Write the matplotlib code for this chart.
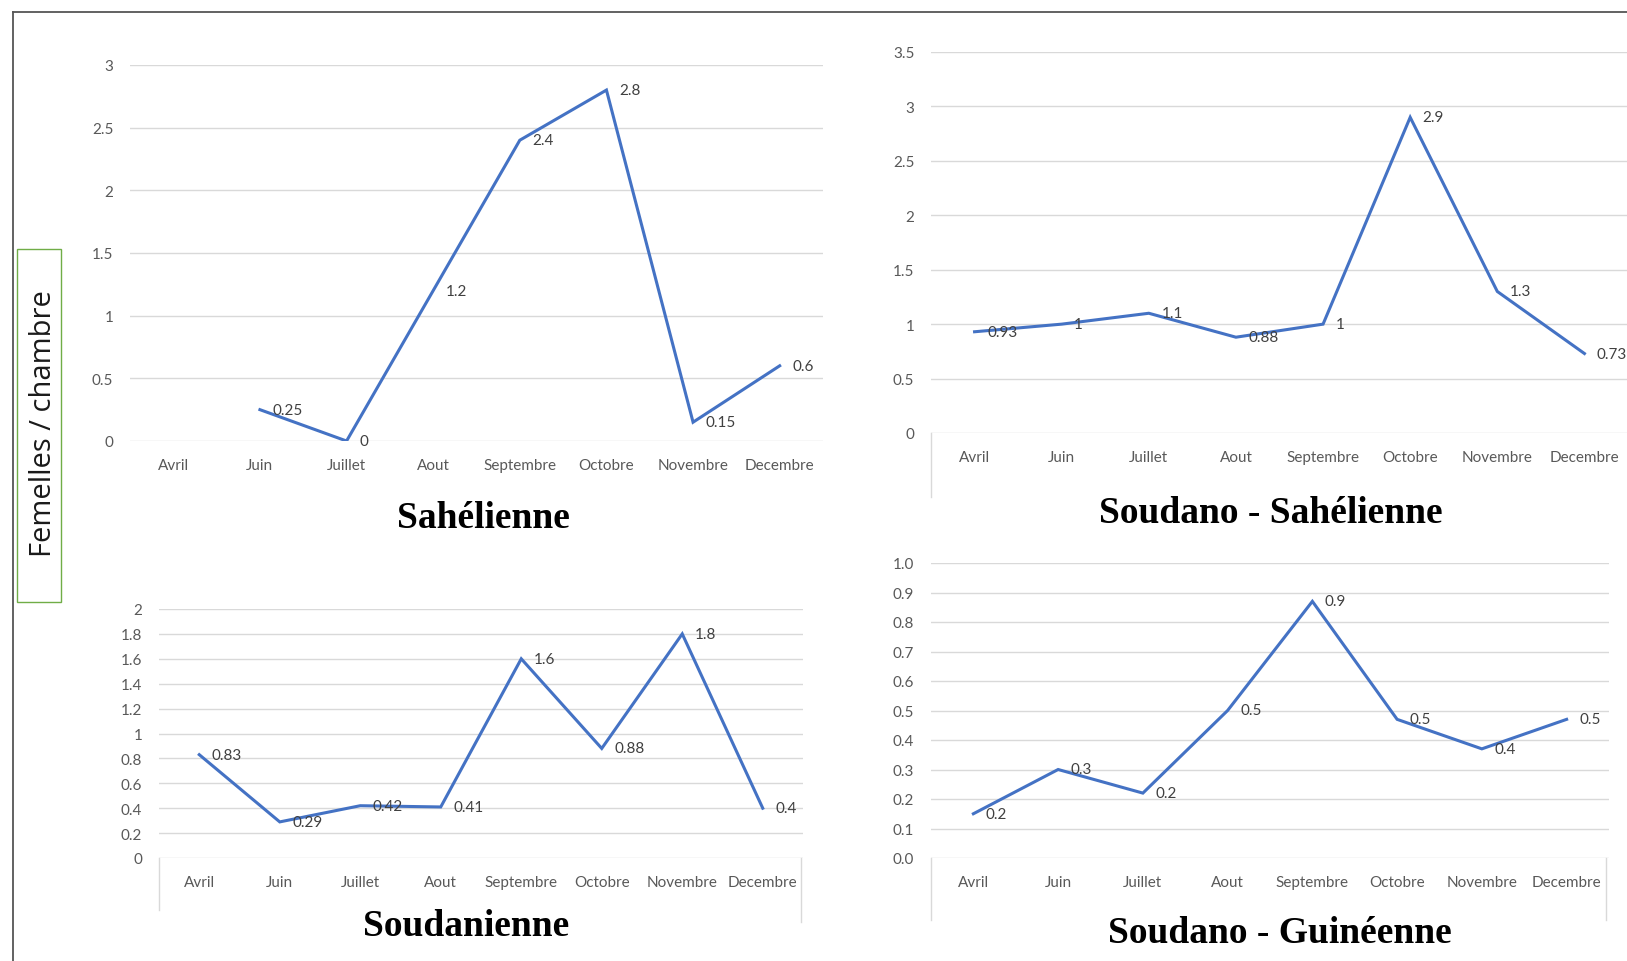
import matplotlib.pyplot as plt
import numpy as np
from matplotlib.lines import Line2D
from matplotlib.patches import Rectangle
from matplotlib.ticker import FuncFormatter, MultipleLocator

mois = ['Avril', 'Juin', 'Juillet', 'Aout', 'Septembre', 'Octobre', 'Novembre', 'Decembre']

sahel = [np.nan, 0.25, 0, 1.2, 2.4, 2.8, 0.15, 0.6]
soudano_sahel = [0.93, 1.0, 1.1, 0.88, 1.0, 2.9, 1.3, 0.73]
soudan = [0.83, 0.29, 0.42, 0.41, 1.6, 0.88, 1.8, 0.4]
soudano_guinee = [0.15, 0.30, 0.22, 0.50, 0.87, 0.47, 0.37, 0.47]
soudano_guinee_lbl = ['0.2', '0.3', '0.2', '0.5', '0.9', '0.5', '0.4', '0.5']

W, H = 1627, 962
BLUE = '#4472C4'
GRID = '#D9D9D9'
TXT = '#595959'
LBL = '#404040'
tick_font = 'Lato'

fig = plt.figure(figsize=(W / 100, H / 100), dpi=100)


def px(x0, y0, x1, y1):
    # pixel box -> figure fraction [left, bottom, width, height]
    return [x0 / W, 1 - y1 / H, (x1 - x0) / W, (y1 - y0) / H]


def panel(box, vals, ymax, step, fmt, title, title_xy, labels=None, frame=None):
    ax = fig.add_axes(px(*box))
    x = np.arange(len(mois))
    ax.plot(x, vals, color=BLUE, lw=2.2, solid_joinstyle='miter')
    if labels is None:
        labels = ['%g' % v if not np.isnan(v) else '' for v in vals]
    for xi, v, t in zip(x, vals, labels):
        if np.isnan(v) or not t:
            continue
        ax.annotate(t, (xi, v), xytext=(9, 0), textcoords='offset points',
                    ha='left', va='center', fontsize=11, color=LBL,
                    family=tick_font, annotation_clip=False)
    ax.set_xlim(-0.5, len(mois) - 0.5)
    ax.set_ylim(0, ymax)
    ax.yaxis.set_major_locator(MultipleLocator(step))
    ax.yaxis.set_major_formatter(FuncFormatter(fmt))
    ax.set_xticks(x)
    ax.set_xticklabels(mois)
    ax.grid(axis='y', color=GRID, lw=1)
    ax.set_axisbelow(True)
    for s in ax.spines.values():
        s.set_visible(False)
    ax.tick_params(length=0, labelsize=11, labelcolor=TXT, pad=12)
    for t in ax.get_xticklabels() + ax.get_yticklabels():
        t.set_family(tick_font)
    if frame is not None:
        # little category-axis box below the plot
        for fx, fy in frame:
            fig.add_artist(Line2D([fx / W, fx / W], [1 - box[3] / H, 1 - fy / H],
                                  color=GRID, lw=1))
    fig.text(title_xy[0] / W, 1 - title_xy[1] / H, title, ha='center', va='center',
             family='Liberation Serif', weight='bold', fontsize=27)
    return ax


panel((130, 66, 823, 442), sahel, 3, 0.5, lambda v, p: '%g' % v,
      'Sahélienne', (483, 519))
panel((931, 53, 1628, 434), soudano_sahel, 3.5, 0.5, lambda v, p: '%g' % v,
      'Soudano - Sahélienne', (1271, 514), frame=[(931, 498)])
panel((159, 610, 803, 859), soudan, 2, 0.2, lambda v, p: '%g' % round(v, 1),
      'Soudanienne', (466, 927), frame=[(159, 911), (801, 923)])
panel((931, 564, 1609, 859), soudano_guinee, 1.0, 0.1, lambda v, p: '%.1f' % v,
      'Soudano - Guinéenne', (1280, 934), labels=soudano_guinee_lbl,
      frame=[(931, 921), (1606, 921)])

# outer frame (top and left edges only visible)
fig.add_artist(Line2D([12.5 / W, 1], [1 - 12.5 / H] * 2, color='#555555', lw=1.3))
fig.add_artist(Line2D([12.5 / W] * 2, [0, 1 - 12.5 / H], color='#555555', lw=1.3))

# y label in green box
fig.add_artist(Rectangle((17 / W, 1 - 603 / H), 44 / W, 353 / H, transform=fig.transFigure,
                         fill=False, edgecolor='#70AD47', lw=1))
fig.text(44 / W, 1 - 424 / H, 'Femelles / chambre', rotation=90, ha='center', va='center',
         family='Open Sans', fontsize=21, color='#1a1a1a')

fig.savefig('out.png', dpi=100)
